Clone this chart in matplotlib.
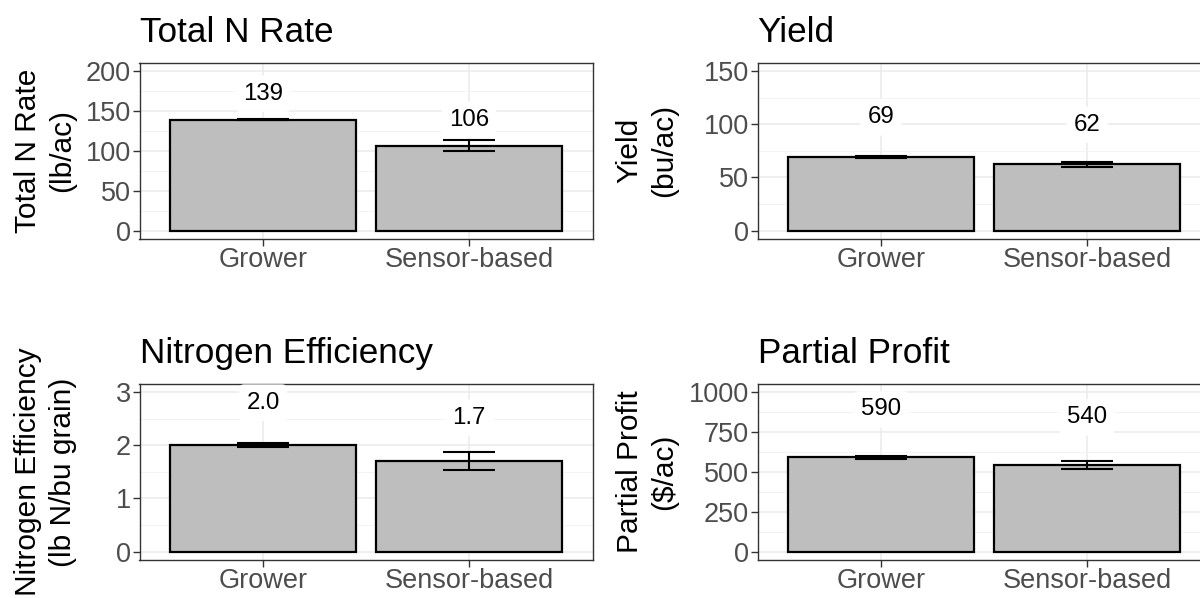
import matplotlib
matplotlib.use("Agg")
import matplotlib.pyplot as plt
import numpy as np

plt.rcParams['font.family'] = ['Liberation Sans', 'DejaVu Sans']

categories = ["Grower", "Sensor-based"]

n_rate = [139, 106.3]
n_rate_se = [0.6, 6.7]

yield_mean = [69.4, 62.4]
yield_se = [1.2, 2.2]

n_eff = [2.0, 1.71]
n_eff_se = [0.04, 0.17]

profit = [590, 540]
profit_se = [12, 25]

panels = [
    dict(title="Total N Rate", ylabel="Total N Rate\n(lb/ac)", vals=n_rate, se=n_rate_se,
         fmt="{:.0f}", ylim=(-10, 210), ticks=np.arange(0, 201, 50), minor=np.arange(25, 201, 50),
         off=32.5, pos=(0, 0)),
    dict(title="Yield", ylabel="Yield\n(bu/ac)", vals=yield_mean, se=yield_se,
         fmt="{:.0f}", ylim=(-7.5, 157.5), ticks=np.arange(0, 151, 50), minor=np.arange(25, 151, 50),
         off=37, pos=(0, 1)),
    dict(title="Nitrogen Efficiency", ylabel="Nitrogen Efficiency\n(lb N/bu grain)", vals=n_eff, se=n_eff_se,
         fmt="{:.1f}", ylim=(-0.15, 3.15), ticks=np.arange(0, 4, 1), minor=np.arange(0.5, 3.1, 1),
         off=0.8, pos=(1, 0)),
    dict(title="Partial Profit", ylabel="Partial Profit\n($/ac)", vals=profit, se=profit_se,
         fmt="{:.0f}", ylim=(-50, 1050), ticks=np.arange(0, 1001, 250), minor=np.arange(125, 1001, 250),
         off=300, pos=(1, 1)),
]

W, H = 1200, 598
fig = plt.figure(figsize=(W / 100, H / 100), dpi=100)
fig.patch.set_facecolor("white")

col_x = [139.5 / W, 757.5 / W]
row_y = [0.6008, 0.0640]
aw, ah = 453 / W, 0.294
label_x = [-0.139, -0.175]

x = np.arange(len(categories))
for p in panels:
    r, c = p["pos"]
    ax = fig.add_axes([col_x[c], row_y[r], aw, ah])
    ax.set_facecolor("white")
    ax.set_axisbelow(True)
    ax.set_xlim(-0.6, 1.6)
    ax.set_ylim(*p["ylim"])
    ax.set_yticks(p["ticks"])
    ax.set_yticks(p["minor"], minor=True)
    ax.set_xticks(x)
    ax.set_xticklabels(categories)
    ax.grid(True, which="major", color="#EBEBEB", linewidth=1.1)
    ax.grid(True, which="minor", axis="y", color="#F2F2F2", linewidth=0.6)
    ax.bar(x, p["vals"], width=0.9, color="#BEBEBE", edgecolor="black", linewidth=1.6, zorder=2)
    ax.errorbar(x, p["vals"], yerr=p["se"], fmt="none", ecolor="black", elinewidth=1.5,
                capsize=18.5, capthick=1.5, zorder=3)
    for xi, v in zip(x, p["vals"]):
        ax.text(xi, v + p["off"], p["fmt"].format(v), ha="center", va="center", fontsize=17.3,
                color="black", zorder=4,
                bbox=dict(boxstyle="round,pad=0.3,rounding_size=0.2", fc="white", ec="none"))
    for s in ax.spines.values():
        s.set_color("#333333")
        s.set_linewidth(1.0)
    ax.tick_params(axis="both", which="major", length=4.7, width=1.0, color="#333333",
                   labelcolor="#4D4D4D", labelsize=19.5, pad=1.5)
    ax.tick_params(axis="y", which="minor", length=0)
    ax.set_title(p["title"], loc="left", fontsize=25.3, pad=15.1, color="black")
    ax.set_ylabel(p["ylabel"], fontsize=21.5, color="black", linespacing=1.3)
    ax.yaxis.set_label_coords(label_x[c], 0.5)

fig.savefig("out.png", dpi=100, facecolor="white")
